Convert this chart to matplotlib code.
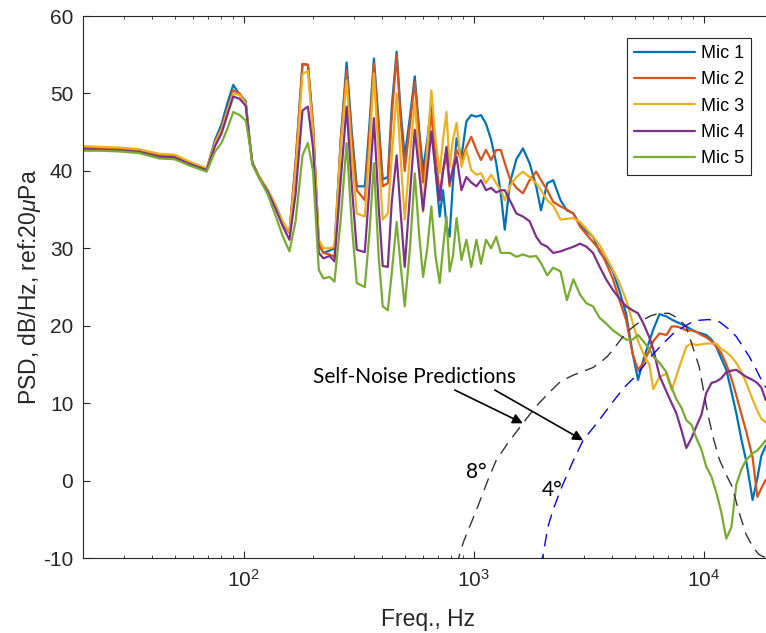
import matplotlib
matplotlib.use('Agg')
import matplotlib.pyplot as plt

plt.rcParams['font.family'] = ['Liberation Sans', 'DejaVu Sans']
plt.rcParams['mathtext.fontset'] = 'custom'
plt.rcParams['mathtext.rm'] = 'Liberation Sans'
plt.rcParams['mathtext.it'] = 'Liberation Sans:italic'
plt.rcParams['axes.unicode_minus'] = False

# frequency grid (Hz) shared by the five microphone spectra
freq = [20, 24, 29, 35, 43, 50, 58, 69,
        75, 80, 85, 90, 96, 102, 106, 109,
        117, 127, 138, 148, 158, 168, 180, 190,
        200, 212, 222, 236, 248, 264, 280, 295,
        310, 336, 352, 368, 386, 402, 423, 440,
        462, 480, 501, 528, 554, 578, 602, 628,
        654, 682, 711, 735, 761, 785, 812, 842,
        884, 929, 975, 1027, 1075, 1130, 1190, 1252,
        1310, 1364, 1435, 1532, 1636, 1748, 1868, 1960,
        2086, 2215, 2384, 2540, 2710, 2900, 3088, 3300,
        3528, 3760, 4030, 4300, 4600, 4900, 5180, 5460,
        5800, 6030, 6425, 6880, 7250, 7600, 8000, 8400,
        8850, 9280, 9770, 10250, 10800, 11330, 11900, 12530,
        13190, 13850, 14600, 15310, 16300, 17100, 17800, 18600]

# PSD, dB/Hz
mic1 = [43.0, 42.9, 42.8, 42.6, 42.0, 41.9, 41.0, 40.2,
        44.0, 46.0, 48.8, 51.1, 49.8, 49.0, 44.0, 41.0,
        39.2, 37.5, 35.4, 33.2, 32.0, 41.0, 53.8, 53.7,
        46.0, 30.5, 29.4, 29.7, 30.0, 44.0, 54.0, 45.0,
        38.0, 38.0, 46.0, 54.5, 46.2, 38.9, 39.2, 48.3,
        55.4, 48.0, 41.8, 47.0, 52.2, 45.5, 40.1, 44.0,
        48.7, 40.0, 34.1, 37.5, 33.0, 31.5, 38.5, 44.2,
        41.8, 46.4, 47.2, 47.0, 47.2, 46.1, 44.0, 41.0,
        37.1, 32.4, 38.4, 41.5, 42.9, 41.0, 38.0, 34.9,
        38.4, 38.8, 36.2, 34.9, 34.5, 33.0, 32.2, 31.5,
        29.5, 28.5, 27.0, 24.5, 21.5, 16.5, 13.0, 15.6,
        18.0, 19.5, 21.5, 21.2, 20.8, 20.5, 20.2, 19.9,
        19.5, 19.2, 19.0, 18.8, 18.2, 17.3, 15.8, 14.3,
        11.5, 8.7, 5.2, 2.5, -2.5, 0.3, 3.2, 4.5]

mic2 = [43.0, 43.0, 42.9, 42.7, 42.1, 42.0, 41.1, 40.3,
        43.6, 45.5, 48.0, 50.4, 50.0, 48.7, 44.0, 41.0,
        39.2, 37.5, 35.4, 33.3, 32.0, 41.0, 53.8, 53.7,
        46.0, 30.5, 29.4, 29.2, 28.9, 44.0, 53.0, 44.0,
        37.5, 36.2, 45.0, 53.9, 45.3, 38.0, 38.4, 47.0,
        55.0, 47.0, 40.0, 46.0, 51.5, 45.0, 38.5, 43.0,
        47.5, 42.0, 37.0, 40.0, 42.0, 38.0, 40.5, 42.7,
        41.4, 43.1, 44.4, 42.7, 41.4, 42.7, 41.4, 42.7,
        42.7, 41.0, 39.0, 37.8, 37.1, 38.8, 39.9, 38.8,
        37.5, 36.0, 35.4, 35.0, 34.5, 32.8, 31.8, 30.8,
        29.8, 28.1, 26.0, 23.3, 20.7, 16.4, 14.3, 15.2,
        16.8, 18.0, 19.0, 18.8, 19.9, 19.9, 19.7, 19.4,
        19.4, 19.2, 18.8, 18.5, 18.0, 17.3, 16.5, 15.0,
        13.2, 11.0, 8.5, 6.3, 3.0, -2.1, -1.0, 0.1]

mic3 = [43.2, 43.1, 43.0, 42.8, 42.2, 42.1, 41.2, 40.3,
        43.6, 45.3, 47.8, 50.0, 49.8, 48.7, 44.0, 41.0,
        39.2, 37.5, 35.4, 33.4, 32.1, 40.0, 52.5, 52.9,
        45.0, 31.1, 30.0, 30.0, 30.2, 43.1, 51.7, 42.0,
        34.5, 34.1, 43.0, 52.6, 41.8, 33.7, 34.5, 41.8,
        50.0, 42.0, 33.7, 42.0, 48.9, 42.0, 34.7, 43.0,
        50.4, 44.0, 39.7, 44.0, 47.6, 40.5, 44.0, 46.2,
        40.5, 42.7, 40.1, 39.5, 39.7, 38.4, 39.5, 38.4,
        37.5, 36.2, 38.0, 39.2, 39.9, 39.2, 38.4, 37.5,
        36.2, 35.5, 33.7, 33.8, 33.9, 33.4, 32.5, 31.5,
        30.4, 28.9, 27.2, 25.5, 23.3, 20.5, 18.0, 16.4,
        15.0, 11.8, 13.4, 13.8, 11.7, 13.5, 15.5, 17.3,
        17.7, 17.5, 17.6, 17.7, 17.7, 17.7, 17.0, 16.6,
        16.0, 15.2, 14.0, 12.6, 10.5, 9.0, 8.0, 7.5]

mic4 = [42.8, 42.7, 42.6, 42.4, 41.8, 41.7, 40.9, 40.1,
        43.2, 44.8, 47.3, 49.6, 49.3, 48.4, 43.8, 41.0,
        39.0, 37.3, 35.0, 32.8, 31.1, 37.0, 47.8, 48.3,
        43.0, 29.4, 28.7, 29.0, 28.3, 38.8, 48.3, 38.0,
        29.8, 29.5, 38.0, 46.8, 35.4, 27.7, 27.6, 36.0,
        42.0, 35.0, 27.6, 37.0, 45.3, 40.0, 34.9, 40.0,
        45.1, 40.0, 36.2, 40.0, 43.1, 38.5, 40.0, 41.8,
        37.5, 39.2, 38.5, 38.0, 38.8, 37.5, 37.8, 37.2,
        37.5, 37.5, 36.2, 34.5, 34.1, 33.5, 31.5, 30.6,
        30.2, 29.4, 29.6, 29.9, 30.2, 30.6, 30.2, 29.4,
        27.6, 26.0, 24.6, 23.5, 22.5, 22.0, 21.6, 20.3,
        18.5, 17.0, 13.5, 11.5, 10.0, 8.7, 6.5, 4.2,
        5.5, 7.0, 8.5, 11.3, 12.6, 12.8, 13.2, 14.0,
        14.2, 14.3, 13.8, 13.4, 13.0, 12.6, 12.0, 10.4]

mic5 = [42.6, 42.6, 42.5, 42.3, 41.6, 41.5, 40.7, 39.9,
        42.5, 43.6, 45.5, 47.6, 47.2, 46.5, 43.5, 40.8,
        39.0, 37.0, 34.1, 31.5, 29.6, 33.5, 42.0, 43.6,
        40.0, 27.2, 26.1, 26.3, 25.7, 33.7, 43.6, 33.0,
        25.5, 25.0, 32.0, 41.0, 28.9, 22.5, 22.0, 26.8,
        33.4, 28.0, 22.5, 30.0, 39.7, 32.0, 26.3, 30.0,
        35.4, 29.0, 25.5, 30.0, 34.1, 27.0, 29.0, 33.9,
        28.5, 31.1, 27.6, 31.1, 28.0, 31.1, 30.0, 31.5,
        29.4, 29.4, 29.4, 28.9, 29.2, 28.9, 29.0, 28.1,
        26.5, 27.5, 27.0, 23.3, 26.0, 24.0, 22.9, 22.5,
        21.0, 20.3, 19.4, 18.8, 18.2, 18.2, 18.8, 18.0,
        17.0, 16.0, 15.2, 14.0, 12.0, 10.5, 9.4, 7.8,
        7.2, 5.5, 4.0, 1.8, 0.5, -1.5, -4.0, -7.5,
        -6.0, -0.5, 1.5, 2.7, 3.5, 3.9, 4.5, 5.2]

mic_labels = ['Mic 1', 'Mic 2', 'Mic 3', 'Mic 4', 'Mic 5']
mic_colors = ['#0072BD', '#D95319', '#EDB120', '#7E2F8E', '#77AC30']

# self-noise predictions, 8 deg and 4 deg
sn8_freq = [840, 900, 1027, 1150, 1255, 1420, 1636, 1868, 2100, 2384,
            2700, 2988, 3300, 3528, 3800, 4030, 4300, 4600, 5000, 5400,
            5900, 6430, 7060, 7700, 8380, 8900, 9550, 10400, 11000, 11700,
            12500, 13300, 14200, 15300, 16300, 17300, 18000, 18600]
sn8_db = [-11.0, -8.0, -3.8, 0.0, 2.7, 5.0, 7.4, 9.6, 11.2, 12.8,
          13.6, 14.1, 14.6, 15.2, 16.0, 16.9, 18.0, 19.1, 20.0, 20.7,
          21.3, 21.6, 21.6, 21.0, 19.9, 17.5, 14.7, 8.7, 5.5, 2.7,
          0.8, -0.8, -4.0, -7.0, -8.5, -9.5, -9.8, -9.9]

sn4_freq = [1930, 1996, 2100, 2200, 2384, 2700, 2988, 3300, 3528, 4030,
            4500, 5100, 5800, 6650, 7500, 8670, 9550, 10500, 11700, 12800,
            13850, 15000, 15789, 16800, 17800, 18600]
sn4_db = [-11.0, -9.8, -6.0, -4.0, -1.2, 2.5, 5.2, 6.8, 7.9, 10.2,
          12.0, 13.6, 15.8, 17.7, 19.2, 20.3, 20.7, 20.8, 20.5, 19.6,
          18.6, 17.0, 16.0, 14.5, 13.0, 12.0]

fig = plt.figure(figsize=(7.66, 6.33), dpi=100)
ax = fig.add_axes([83 / 766, 75 / 633, 690 / 766, 542 / 633])

for vals, lab, col in zip([mic1, mic2, mic3, mic4, mic5], mic_labels, mic_colors):
    ax.semilogx(freq, vals, color=col, lw=1.6, label=lab,
                solid_joinstyle='round', solid_capstyle='round')

ax.semilogx(sn8_freq, sn8_db, color='#333333', lw=1.0, dashes=(9, 5.5))
ax.semilogx(sn4_freq, sn4_db, color='#0000FF', lw=1.0, dashes=(9, 5.5))

ax.set_xlim(20, 20000)
ax.set_ylim(-10, 60)
ax.set_yticks(range(-10, 61, 10))

axcol = '#262626'
for s in ax.spines.values():
    s.set_color(axcol)
    s.set_linewidth(0.8)
ax.tick_params(which='both', direction='in', top=True, right=True, colors=axcol)
ax.tick_params(which='major', length=5, width=0.8, labelsize=15)
ax.tick_params(which='minor', length=2.5, width=0.6)
ax.tick_params(axis='x', which='major', pad=8)
ax.tick_params(axis='y', which='major', pad=7)

ax.set_xlabel('Freq., Hz', fontsize=16.5, color=axcol, labelpad=12)
ax.set_ylabel(r'PSD, dB/Hz, ref:20$\mu$Pa', fontsize=16.5, color=axcol, labelpad=0)

leg = ax.legend(loc='upper left', bbox_to_anchor=(626.7 / 766, 1 - 37.7 / 633),
                bbox_transform=fig.transFigure, fontsize=13, fancybox=False,
                edgecolor=axcol, framealpha=1, handlelength=3.4,
                handletextpad=0.3, labelspacing=0.52, borderpad=0.4,
                borderaxespad=0)
leg.get_frame().set_linewidth(0.8)

# annotation for the two prediction curves
note_font = ['Lato', 'DejaVu Sans']
ax.text(200, 12.56, 'Self-Noise Predictions', fontsize=15, family=note_font,
        ha='left', va='baseline', color='k')
ax.text(929, 0.29, '8°', fontsize=15, family=note_font, ha='left', va='baseline', color='k')
ax.text(1968, -1.95, '4°', fontsize=15, family=note_font, ha='left', va='baseline', color='k')

arrow = dict(arrowstyle='-|>', color='k', lw=1.2, mutation_scale=15,
             shrinkA=0, shrinkB=0)
ax.annotate('', xy=(sn8_freq[6], sn8_db[6]), xytext=(826, 11.7), arrowprops=arrow)
ax.annotate('', xy=(sn4_freq[6], sn4_db[6]), xytext=(1234, 11.7), arrowprops=arrow)

fig.savefig('out.png', dpi=100)
